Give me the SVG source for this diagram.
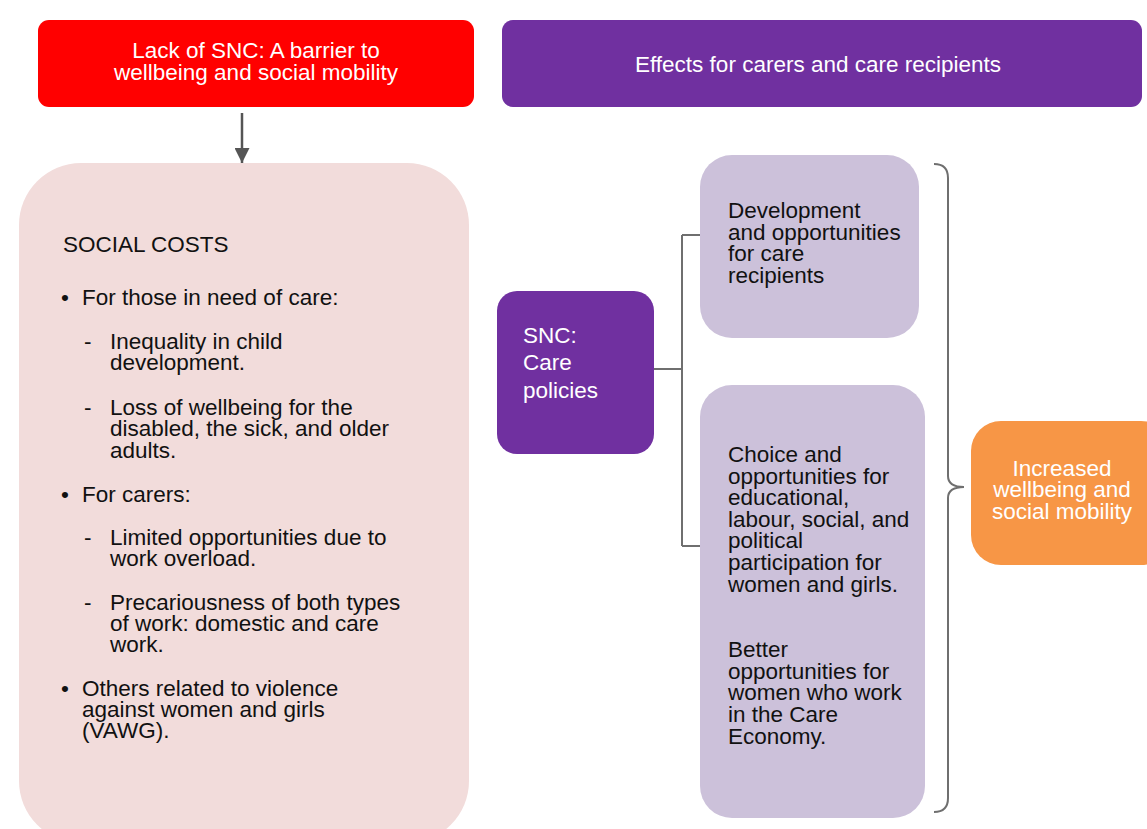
<svg xmlns="http://www.w3.org/2000/svg" width="1147" height="829" viewBox="0 0 1147 829">
<style>
text{font-family:"Liberation Sans",Arial,sans-serif;font-size:22.5px}
.w{fill:#ffffff}
.k{fill:#111111}
.conn{fill:none;stroke:#6f6f6f;stroke-width:2}
</style>
<defs>
<marker id="ah" viewBox="0 0 10 10" refX="10" refY="5" markerWidth="15" markerHeight="15" markerUnits="userSpaceOnUse" orient="auto">
<path d="M0,0 L10,5 L0,10 Z" fill="#555"/>
</marker>
</defs>
<rect width="1147" height="829" fill="#ffffff"/>
<g id="connectors">
<line x1="242" y1="113" x2="242" y2="163" stroke="#555" stroke-width="2.5" marker-end="url(#ah)"/>
<path class="conn" d="M654,369 H682 M682,235 V546 M682,235 H700 M682,546 H700"/>
<path class="conn" d="M934,164 Q948,164 948,178 V476 Q948,487 964,487 Q948,487 948,498 V798 Q948,812 934,812"/>
</g>
<g id="barrier">
<rect x="38" y="20" width="436" height="87" rx="11" fill="#ff0000"/>
<text class="w" text-anchor="middle"><tspan x="256" y="58">Lack of SNC: A barrier to</tspan><tspan x="256" y="80">wellbeing and social mobility</tspan></text>
</g>
<g id="effects">
<rect x="502" y="20" width="640" height="87" rx="11" fill="#7030a0"/>
<text class="w" x="818" y="72" text-anchor="middle">Effects for carers and care recipients</text>
</g>
<g id="social-costs">
<rect x="19" y="163" width="450" height="680" rx="62" fill="#f2dcdb"/>
<text class="k" x="63" y="252">SOCIAL COSTS</text>
<text class="k" x="61" y="305">•</text>
<text class="k" x="82" y="305">For those in need of care:</text>
<text class="k" x="84" y="349">-</text>
<text class="k"><tspan x="110" y="349">Inequality in child</tspan><tspan x="110" y="370">development.</tspan></text>
<text class="k" x="84" y="415">-</text>
<text class="k"><tspan x="110" y="415">Loss of wellbeing for the</tspan><tspan x="110" y="436">disabled, the sick, and older</tspan><tspan x="110" y="458">adults.</tspan></text>
<text class="k" x="61" y="502">•</text>
<text class="k" x="82" y="502">For carers:</text>
<text class="k" x="84" y="545">-</text>
<text class="k"><tspan x="110" y="545">Limited opportunities due to</tspan><tspan x="110" y="566">work overload.</tspan></text>
<text class="k" x="84" y="610">-</text>
<text class="k"><tspan x="110" y="610">Precariousness of both types</tspan><tspan x="110" y="631">of work: domestic and care</tspan><tspan x="110" y="652">work.</tspan></text>
<text class="k" x="61" y="696">•</text>
<text class="k"><tspan x="82" y="696">Others related to violence</tspan><tspan x="82" y="717">against women and girls</tspan><tspan x="82" y="738">(VAWG).</tspan></text>
</g>
<g id="snc">
<rect x="497" y="291" width="157" height="163" rx="20" fill="#7030a0"/>
<text class="w"><tspan x="523" y="343">SNC:</tspan><tspan x="523" y="370">Care</tspan><tspan x="523" y="398">policies</tspan></text>
</g>
<g id="development">
<rect x="700" y="155" width="219" height="183" rx="32" fill="#ccc1da"/>
<text class="k"><tspan x="728" y="218">Development</tspan><tspan x="728" y="240">and opportunities</tspan><tspan x="728" y="261">for care</tspan><tspan x="728" y="283">recipients</tspan></text>
</g>
<g id="choice">
<rect x="700" y="385" width="225" height="433" rx="32" fill="#ccc1da"/>
<text class="k"><tspan x="728" y="462">Choice and</tspan><tspan x="728" y="484">opportunities for</tspan><tspan x="728" y="505">educational,</tspan><tspan x="728" y="527">labour, social, and</tspan><tspan x="728" y="548">political</tspan><tspan x="728" y="570">participation for</tspan><tspan x="728" y="592">women and girls.</tspan></text>
<text class="k"><tspan x="728" y="657">Better</tspan><tspan x="728" y="679">opportunities for</tspan><tspan x="728" y="700">women who work</tspan><tspan x="728" y="722">in the Care</tspan><tspan x="728" y="744">Economy.</tspan></text>
</g>
<g id="increased">
<rect x="971" y="421" width="200" height="144" rx="30" fill="#f79646"/>
<text class="w" text-anchor="middle"><tspan x="1062" y="476">Increased</tspan><tspan x="1062" y="497">wellbeing and</tspan><tspan x="1062" y="519">social mobility</tspan></text>
</g>
</svg>
